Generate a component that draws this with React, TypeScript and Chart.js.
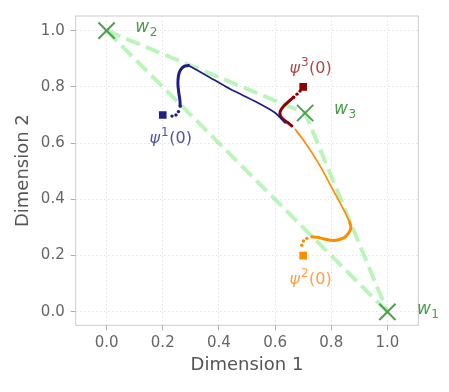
import React, { useEffect, useRef } from 'react';
import { Chart, registerables } from 'chart.js';

Chart.register(...registerables);

// ---- axes ----
const xTicks = [0, 0.2, 0.4, 0.6, 0.8, 1.0];
const yTicks = [0, 0.2, 0.4, 0.6, 0.8, 1.0];
const xRange = [-0.11, 1.11];
const yRange = [-0.048, 1.052];

// ---- simplex vertices w1, w2, w3 ----
const vertexX = [1.0, 0.0, 0.707];
const vertexY = [0.0, 1.0, 0.707];

// ---- trajectory 1 (blue) ----
const start1: [number, number] = [0.2, 0.7];
const dots1: [number, number][] = [[0.233, 0.696], [0.247, 0.7], [0.256, 0.712], [0.262, 0.732]];
const thick1: [number, number][] = [[0.262, 0.732], [0.261, 0.753], [0.257, 0.78], [0.254, 0.81], [0.256, 0.84], [0.263, 0.86], [0.276, 0.873], [0.292, 0.876]];
const thin1: [number, number][] = [[0.292, 0.876], [0.36, 0.838], [0.44, 0.792], [0.53, 0.748], [0.6, 0.708], [0.636, 0.672]];

// ---- trajectory 2 (orange) ----
const start2: [number, number] = [0.7, 0.2];
const dots2: [number, number][] = [[0.695, 0.237], [0.701, 0.252], [0.713, 0.261]];
const thick2: [number, number][] = [[0.731, 0.267], [0.75, 0.265], [0.775, 0.259], [0.81, 0.254], [0.843, 0.262], [0.861, 0.279], [0.87, 0.298], [0.866, 0.318]];
const thin2: [number, number][] = [[0.866, 0.318], [0.855, 0.342], [0.83, 0.39], [0.8, 0.445], [0.77, 0.502], [0.735, 0.56], [0.7, 0.612], [0.672, 0.649]];

// ---- trajectory 3 (red) ----
const start3: [number, number] = [0.7, 0.8];
const dots3: [number, number][] = [[0.689, 0.785], [0.678, 0.774], [0.666, 0.763]];
const thick3: [number, number][] = [[0.666, 0.763], [0.655, 0.754], [0.642, 0.742], [0.628, 0.728], [0.618, 0.712], [0.619, 0.697], [0.628, 0.685], [0.642, 0.675], [0.66, 0.661]];

// ---- text labels (data coordinates of left/baseline) ----
type Ann = { x: number; y: number; base: string; sup?: string; sub?: string; tail?: string; color: string };
const annotations: Ann[] = [
  { x: 0.153, y: 0.601, base: 'ψ', sup: '1', tail: '(0)', color: '#5252a8' },
  { x: 0.651, y: 0.848, base: 'ψ', sup: '3', tail: '(0)', color: '#a84a4a' },
  { x: 0.651, y: 0.0975, base: 'ψ', sup: '2', tail: '(0)', color: '#ffa040' },
  { x: 0.102, y: 0.995, base: 'w', sub: '2', color: '#4b9b4b' },
  { x: 0.81, y: 0.702, base: 'w', sub: '3', color: '#4b9b4b' },
  { x: 1.105, y: -0.008, base: 'w', sub: '1', color: '#4b9b4b' },
];

const BLUE = '#1e1e86';
const RED = '#8b0000';
const ORANGE = '#ff8c00';
const GREEN = '#4f9f4f';
const DASH_GREEN = 'rgba(144,238,144,0.6)';
const FONT = "'DejaVu Sans', sans-serif";

const pts = (arr: [number, number][]) => arr.map(([x, y]) => ({ x, y }));

const boxPlugin = {
  id: 'box',
  beforeDatasetsDraw(chart: any) {
    const { ctx, chartArea: a } = chart;
    ctx.save();
    ctx.strokeStyle = '#cccccc';
    ctx.lineWidth = 1;
    ctx.strokeRect(a.left, a.top, a.right - a.left, a.bottom - a.top);
    ctx.restore();
  },
};

const labelPlugin = {
  id: 'labels',
  afterDatasetsDraw(chart: any) {
    const { ctx } = chart;
    const xs = chart.scales.x;
    const ys = chart.scales.y;
    ctx.save();
    ctx.textAlign = 'left';
    ctx.textBaseline = 'alphabetic';
    for (const a of annotations) {
      let px = xs.getPixelForValue(a.x);
      const py = ys.getPixelForValue(a.y);
      ctx.fillStyle = a.color;
      const big = a.sub ? 17 : 16;
      ctx.font = `italic ${big}px ${FONT}`;
      ctx.fillText(a.base, px, py);
      px += ctx.measureText(a.base).width;
      if (a.sup) {
        ctx.font = `12px ${FONT}`;
        ctx.fillText(a.sup, px + 1, py - 7);
        px += ctx.measureText(a.sup).width + 1.5;
      }
      if (a.sub) {
        ctx.font = `12px ${FONT}`;
        ctx.fillText(a.sub, px + 0.5, py + 3.5);
        px += ctx.measureText(a.sub).width + 1;
      }
      if (a.tail) {
        ctx.font = `16px ${FONT}`;
        ctx.fillText(a.tail, px, py);
      }
    }
    ctx.restore();
  },
};

export default function App() {
  const ref = useRef<HTMLCanvasElement | null>(null);

  useEffect(() => {
    document.body.style.margin = '0';
    const canvas = ref.current;
    if (!canvas) return;

    const lineDs = (data: [number, number][], color: string, width: number, order: number, tension = 0.35) => ({
      data: pts(data),
      showLine: true,
      borderColor: color,
      borderWidth: width,
      pointRadius: 0,
      tension,
      borderCapStyle: 'round',
      borderJoinStyle: 'round',
      fill: false,
      order,
    });
    const dotDs = (data: [number, number][], color: string, order: number) => ({
      data: pts(data),
      showLine: false,
      pointRadius: 1.7,
      pointStyle: 'circle',
      backgroundColor: color,
      borderWidth: 0,
      order,
    });
    const squareDs = (p: [number, number], color: string) => ({
      data: [{ x: p[0], y: p[1] }],
      showLine: false,
      pointStyle: 'rect',
      pointRadius: 5.4,
      backgroundColor: color,
      borderColor: color,
      borderWidth: 0,
      order: 1,
    });

    const chart = new Chart(canvas, {
      type: 'scatter',
      data: {
        datasets: [
          {
            data: vertexX.map((x, i) => ({ x, y: vertexY[i] })),
            showLine: false,
            pointStyle: 'crossRot',
            pointRadius: 11.5,
            borderColor: GREEN,
            borderWidth: 2,
            order: 0,
          } as any,
          squareDs(start1, BLUE),
          squareDs(start2, ORANGE),
          squareDs(start3, RED),
          dotDs(dots1, BLUE, 2),
          dotDs(dots2, ORANGE, 2),
          dotDs(dots3, RED, 2),
          lineDs(thick1, BLUE, 3, 2),
          lineDs(thin1, BLUE, 1.7, 2, 0.2),
          lineDs(thick2, ORANGE, 3, 2),
          lineDs(thin2, ORANGE, 1.7, 2, 0.2),
          lineDs(thick3, RED, 3, 2),
          {
            data: [1, 2, 0].map((i) => ({ x: vertexX[i], y: vertexY[i] })),
            showLine: true,
            borderColor: DASH_GREEN,
            borderWidth: 4,
            borderDash: [14.8, 6.4],
            pointRadius: 0,
            tension: 0,
            order: 5,
          } as any,
          {
            data: [1, 0].map((i) => ({ x: vertexX[i], y: vertexY[i] })),
            showLine: true,
            borderColor: DASH_GREEN,
            borderWidth: 4,
            borderDash: [14.8, 6.4],
            pointRadius: 0,
            tension: 0,
            order: 5,
          } as any,
        ] as any,
      },
      options: {
        responsive: false,
        animation: false,
        devicePixelRatio: 1,
        layout: { padding: { top: 16, right: 30.7, left: 0, bottom: 0 } },
        plugins: { legend: { display: false }, tooltip: { enabled: false } },
        scales: {
          x: {
            type: 'linear',
            min: xRange[0],
            max: xRange[1],
            afterBuildTicks: (s: any) => {
              s.ticks = xTicks.map((v) => ({ value: v }));
            },
            afterFit: (s: any) => {
              s.height = 66.7;
            },
            ticks: {
              callback: (v: any) => Number(v).toFixed(1),
              color: '#666',
              font: { family: FONT, size: 15 },
              padding: 4,
              maxRotation: 0,
            },
            grid: {
              color: '#dcdcdc',
              lineWidth: 0.8,
              drawTicks: true,
              tickLength: 5,
              tickColor: '#aaaaaa',
              tickWidth: 1,
              tickBorderDash: [],
            },
            border: { display: false, dash: [1.5, 2.5] },
            title: {
              display: true,
              text: 'Dimension 1',
              color: '#555',
              font: { family: FONT, size: 18 },
              padding: { top: 0, bottom: 16 },
            },
          },
          y: {
            type: 'linear',
            min: yRange[0],
            max: yRange[1],
            afterBuildTicks: (s: any) => {
              s.ticks = yTicks.map((v) => ({ value: v }));
            },
            afterFit: (s: any) => {
              s.width = 75.7;
            },
            ticks: {
              callback: (v: any) => Number(v).toFixed(1),
              color: '#666',
              font: { family: FONT, size: 15 },
              padding: 6,
            },
            grid: {
              color: '#dcdcdc',
              lineWidth: 0.8,
              drawTicks: true,
              tickLength: 5,
              tickColor: '#aaaaaa',
              tickWidth: 1,
              tickBorderDash: [],
            },
            border: { display: false, dash: [1.5, 2.5] },
            title: {
              display: true,
              text: 'Dimension 2',
              color: '#555',
              font: { family: FONT, size: 18 },
              padding: { top: 13, bottom: 0 },
            },
          },
        },
      } as any,
      plugins: [boxPlugin, labelPlugin],
    });

    return () => chart.destroy();
  }, []);

  return <canvas ref={ref} width={449} height={392} style={{ display: 'block' }} />;
}
